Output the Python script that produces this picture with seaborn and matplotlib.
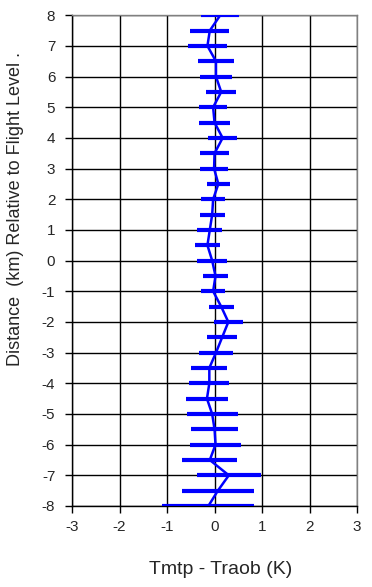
import matplotlib
matplotlib.use("Agg")
import matplotlib.pyplot as plt
import seaborn as sns
import pandas as pd

distance_km = [8, 7.5, 7, 6.5, 6, 5.5, 5, 4.5, 4, 3.5, 3, 2.5, 2, 1.5, 1, 0.5, 0,
               -0.5, -1, -1.5, -2, -2.5, -3, -3.5, -4, -4.5, -5, -5.5, -6, -6.5,
               -7, -7.5, -8]
mean_diff = [0.12, -0.10, -0.15, 0.03, 0.03, 0.14, -0.03, 0.0, 0.17, 0.0, -0.01,
             0.08, -0.03, -0.05, -0.10, -0.15, -0.05, 0.02, -0.03, 0.14, 0.29,
             0.16, 0.03, -0.11, -0.11, -0.16, -0.05, 0.0, 0.02, -0.10, 0.30,
             0.07, -0.13]
err_diff = [0.40, 0.41, 0.41, 0.38, 0.33, 0.31, 0.29, 0.32, 0.30, 0.30, 0.30,
            0.24, 0.25, 0.26, 0.26, 0.27, 0.31, 0.27, 0.25, 0.26, 0.30, 0.32,
            0.35, 0.38, 0.42, 0.45, 0.54, 0.49, 0.53, 0.58, 0.67, 0.76, 0.97]

x_ticks = [-3, -2, -1, 0, 1, 2, 3]
y_ticks = list(range(-8, 9))

df = pd.DataFrame({"dist": distance_km, "diff": mean_diff, "err": err_diff})

sns.set_style("white")
plt.rcParams["font.family"] = ["Liberation Sans", "DejaVu Sans"]

fig = plt.figure(figsize=(3.72, 5.87), dpi=100)
ax = fig.add_axes([0.1935, 0.138, 0.7665, 0.836])

blue = "#0000FF"
ax.errorbar(df["diff"], df["dist"], xerr=df["err"], fmt="none",
            ecolor=blue, elinewidth=3, capsize=0, zorder=3)
sns.lineplot(data=df, x="diff", y="dist", sort=False, orient="y",
             color=blue, linewidth=1.8, ax=ax, zorder=4)

ax.set_xlim(-3, 3)
ax.set_ylim(-8, 8)
ax.set_xticks(x_ticks)
ax.set_yticks(y_ticks)
ax.set_xticklabels([str(t) for t in x_ticks])
ax.set_yticklabels([str(t) for t in y_ticks])
ax.grid(True, color="black", linewidth=1)
ax.set_axisbelow(True)

for s in ["left", "bottom"]:
    ax.spines[s].set_color("black")
    ax.spines[s].set_linewidth(1)
for s in ["top", "right"]:
    ax.spines[s].set_color("#808080")
    ax.spines[s].set_linewidth(1)

ax.tick_params(axis="both", direction="out", length=5, width=1, color="black",
               labelsize=11, bottom=True, left=True)
ax.tick_params(axis="y", pad=7)
ax.tick_params(axis="x", pad=5)

ax.set_xlabel("Tmtp - Traob (K)", fontsize=14)
ax.xaxis.set_label_coords(0.523, -0.112)
ax.set_ylabel("Distance  (km) Relative to Flight Level .", fontsize=13)
ax.yaxis.set_label_coords(-0.17, 0.605)

fig.savefig("out.png", dpi=100)
